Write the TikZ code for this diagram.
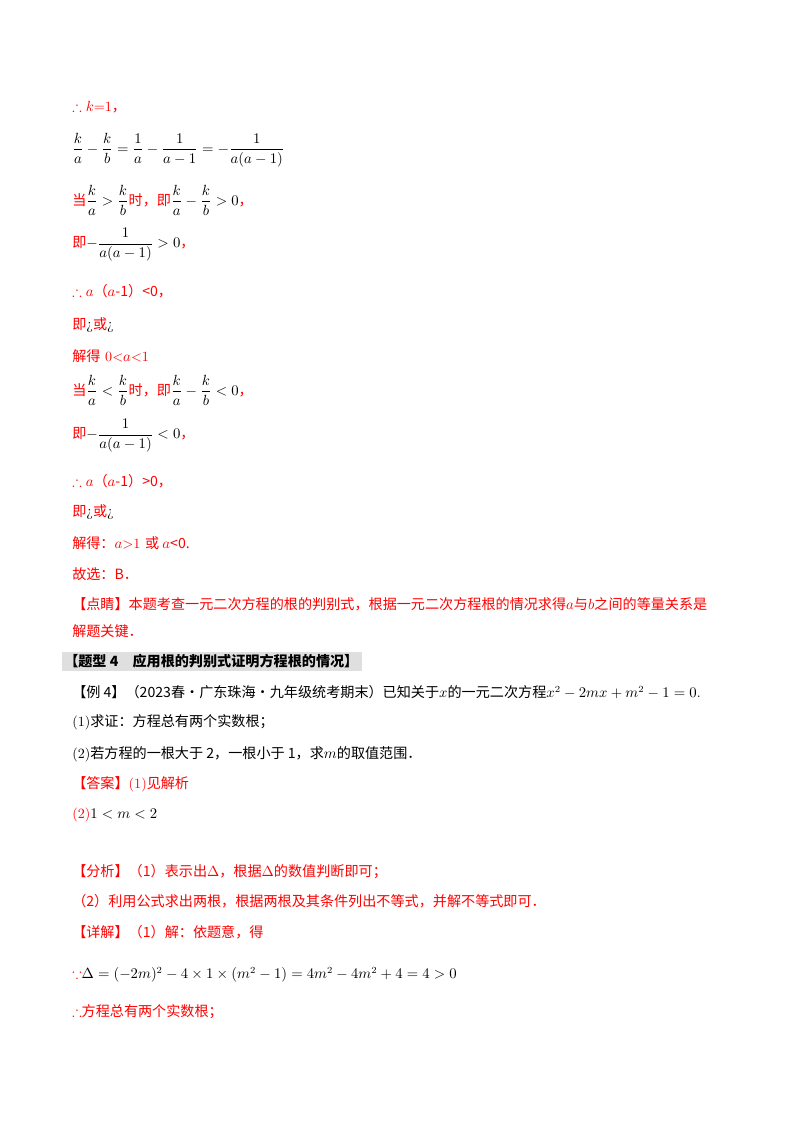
\documentclass[tikz,border=0pt]{standalone}
\usepackage{amsmath,amssymb}
\usepackage{fontspec}
\newfontfamily\cjk{Noto Sans CJK SC}
\definecolor{rd}{RGB}{255,0,0}
\newcommand{\cR}[1]{\textcolor{rd}{\cjk #1}}
\newcommand{\cB}[1]{{\cjk #1}}
\begin{document}
\begin{tikzpicture}[x=0.744pt,y=-0.744pt,
  ln/.style={anchor=west,inner sep=0pt,font=\fontsize{10.5}{12}\selectfont}]
\useasboundingbox (0,0) rectangle (800,1132);
\fill[gray!25] (62,652) rectangle (362,671);
\node[ln] (l1) at (72,107) {\color{rd}$\therefore k$=1\cjk，};
\node[ln] (l2) at (72,150) {$\dfrac{k}{a}-\dfrac{k}{b}=\dfrac{1}{a}-\dfrac{1}{a-1}=-\dfrac{1}{a(a-1)}$};
\node[ln] (l3) at (72,200) {\cR{当}$\dfrac{k}{a}>\dfrac{k}{b}$\cR{时，即}$\dfrac{k}{a}-\dfrac{k}{b}>0$\cR{，}};
\node[ln] (l4) at (72,245) {\cR{即}$-\dfrac{1}{a(a-1)}>0$\cR{，}};
\node[ln] (l5) at (72,291) {\color{rd}$\therefore a$\cjk（$a$-1）<0，};
\node[ln] (l6) at (72,325) {\cR{即}¿\cR{或}¿};
\node[ln] (l7) at (72,356) {\cR{解得} \color{rd}0<$a$<1};
\node[ln] (l8) at (72,390) {\cR{当}$\dfrac{k}{a}<\dfrac{k}{b}$\cR{时，即}$\dfrac{k}{a}-\dfrac{k}{b}<0$\cR{，}};
\node[ln] (l9) at (72,436) {\cR{即}$-\dfrac{1}{a(a-1)}<0$\cR{，}};
\node[ln] (l10) at (72,481) {\color{rd}$\therefore a$\cjk（$a$-1）>0，};
\node[ln] (l11) at (72,512) {\cR{即}¿\cR{或}¿};
\node[ln] (l12) at (72,543) {\cR{解得：}\color{rd}$a$>1 \cjk 或 $a$<0.};
\node[ln] (l13) at (72,574) {\cR{故选：B．}};
\node[ln] (l14) at (72,604) {\cR{【点睛】本题考查一元二次方程的根的判别式，根据一元二次方程根的情况求得}\textcolor{rd}{$a$}\cR{与}\textcolor{rd}{$b$}\cR{之间的等量关系是}};
\node[ln] (l15) at (72,631) {\cR{解题关键．}};
\node[ln] (l16) at (64,661) {\cjk\bfseries 【题型 4\quad 应用根的判别式证明方程根的情况】};
\node[ln] (l17) at (72,692) {\cB{【例 4】（2023春·广东珠海·九年级统考期末）已知关于}$x$\cB{的一元二次方程}$x^2-2mx+m^2-1=0$.};
\node[ln] (l18) at (72,722) {(1)\cB{求证：方程总有两个实数根；}};
\node[ln] (l19) at (72,754) {(2)\cB{若方程的一根大于 2，一根小于 1，求}$m$\cB{的取值范围．}};
\node[ln] (l20) at (72,784) {\cR{【答案】}\textcolor{rd}{(1)}\cR{见解析}};
\node[ln] (l21) at (72,815) {\textcolor{rd}{(2)}$1<m<2$};
\node[ln] (l22) at (72,872) {\cR{【分析】（1）表示出}\textcolor{rd}{$\Delta$}\cR{，根据}\textcolor{rd}{$\Delta$}\cR{的数值判断即可；}};
\node[ln] (l23) at (72,901) {\cR{（2）利用公式求出两根，根据两根及其条件列出不等式，并解不等式即可．}};
\node[ln] (l24) at (72,932) {\cR{【详解】（1）解：依题意，得}};
\node[ln] (l25) at (72,975) {\textcolor{rd}{$\because$}$\Delta=(-2m)^2-4\times1\times\left(m^2-1\right)=4m^2-4m^2+4=4>0$};
\node[ln] (l26) at (72,1012) {\textcolor{rd}{$\therefore$}\cR{方程总有两个实数根；}};
\end{tikzpicture}
\end{document}
